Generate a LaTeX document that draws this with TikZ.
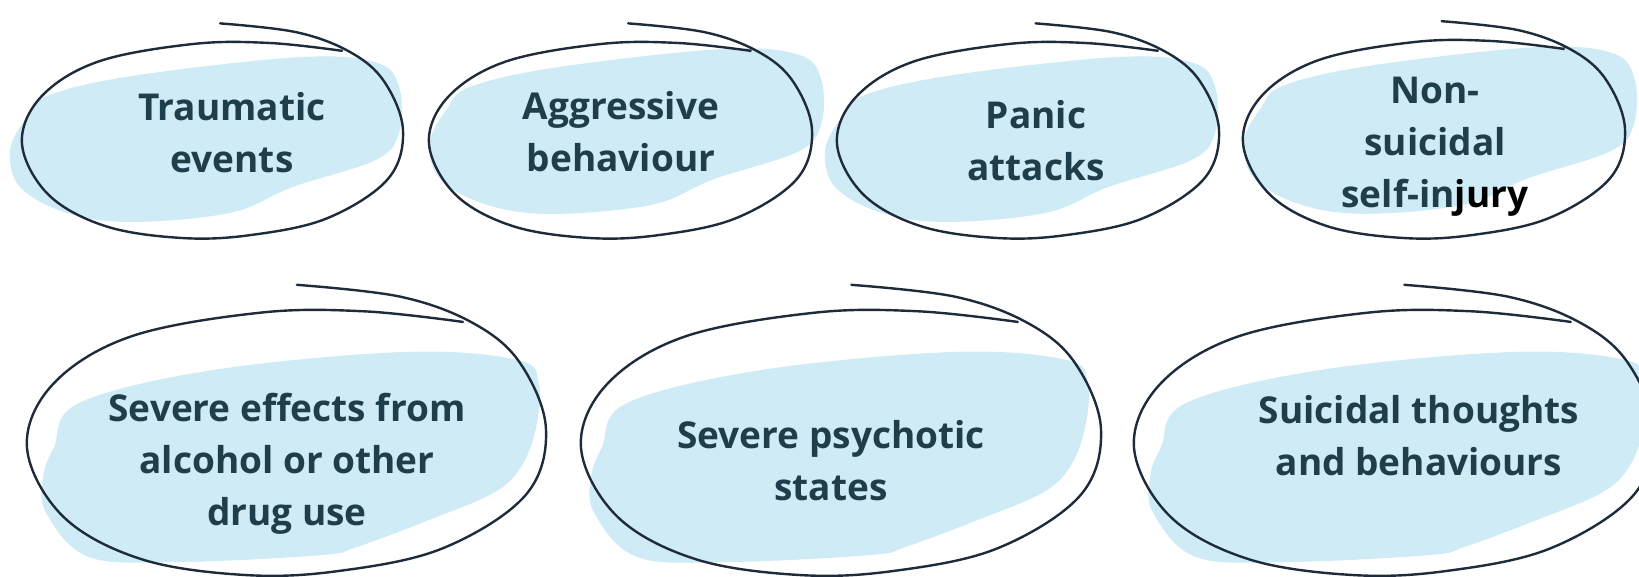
\documentclass[tikz,border=0pt]{standalone}
\usepackage{fontspec}
\setmainfont{Open Sans}
\definecolor{inkc}{HTML}{1E2B3A}
\definecolor{blobc}{HTML}{CFEBF5}
\definecolor{txtc}{HTML}{1F3E4B}
\tikzset{
  inkline/.style={draw=inkc, line width=2.4pt, line cap=round, line join=round},
  blobfill/.style={fill=blobc, draw=none},
  lbl/.style={font=\bfseries\fontsize{37}{52}\selectfont, text=txtc, align=center, inner sep=0pt, anchor=base}
}
% #1 x0, #2 y0, #3 width, #4 height of the main loop box
\newcommand{\handloop}[4]{%
  \begin{scope}[shift={(#1,#2)}, xscale=#3, yscale=#4]
    \draw[inkline] plot[smooth, tension=0.6] coordinates {
      (0.52,-0.095) (0.72,-0.05) (0.86,0.05) (0.95,0.2) (1.0,0.45) (0.96,0.7)
      (0.8,0.9) (0.6,0.985) (0.42,1.0) (0.22,0.94) (0.07,0.78) (0,0.52)
      (0.05,0.28) (0.2,0.1) (0.45,0.01) (0.65,0.005) (0.84,0.045)};
  \end{scope}}
\newcommand{\topblob}[4]{%
  \begin{scope}[shift={(#1,#2)}, xscale=#3, yscale=#4]
    \fill[blobfill] plot[smooth cycle, tension=0.6] coordinates {
      (0.013,0.383) (0.073,0.27) (0.3,0.17) (0.73,0.077) (0.93,0.105) (0.99,0.23)
      (0.99,0.46) (0.93,0.6) (0.71,0.74) (0.55,0.87) (0.29,0.918) (0.118,0.872)
      (-0.005,0.74) (-0.031,0.551)};
  \end{scope}}
\newcommand{\lowblob}[4]{%
  \begin{scope}[shift={(#1,#2)}, xscale=#3, yscale=#4]
    \fill[blobfill] plot[smooth cycle, tension=0.6] coordinates {
      (0.100,0.351) (0.360,0.226) (0.732,0.158) (0.946,0.189) (0.986,0.275)
      (0.981,0.442) (0.952,0.592) (0.898,0.691) (0.775,0.792) (0.636,0.894)
      (0.566,0.925) (0.293,0.951) (0.119,0.932) (0.037,0.766) (0.031,0.630)
      (0.052,0.517)};
  \end{scope}}
\begin{document}
\begin{tikzpicture}[x=1pt, y=-1pt]
  \clip (0,0) rectangle (1639,576);
  \fill[white] (0,0) rectangle (1639,576);
  % blobs
  \topblob{22}{42}{381}{196}
  \topblob{442}{34}{383}{196}
  \topblob{837}{42}{382}{196}
  \topblob{1256}{32}{382}{198}
  \lowblob{27}{310}{519}{265}
  \lowblob{575}{310}{520}{265}
  \lowblob{1134}{310}{520}{265}
  % loops
  \handloop{22}{42}{381}{196}
  \handloop{429}{42}{383}{196}
  \handloop{837}{42}{382}{196}
  \handloop{1243}{40}{382}{198}
  \handloop{27}{310}{519}{265}
  \handloop{581}{310}{520}{265}
  \handloop{1134}{310}{520}{265}
  % labels (anchor = baseline of last line)
  \node[lbl] (t1) at (232,172) {Traumatic\\events};
  \node[lbl] (t2) at (621,171) {Aggressive\\behaviour};
  \node[lbl] (t3) at (1036,180) {Panic\\attacks};
  \node[lbl] (t4) at (1435,207) {Non-\\suicidal\\self-in{\color{black}jury}};
  \node[lbl] (t5) at (287,525) {Severe effects from\\alcohol or other\\drug use};
  \node[lbl] (t6) at (831,500) {Severe psychotic\\states};
  \node[lbl] (t7) at (1419,475) {Suicidal thoughts\\and behaviours};
\end{tikzpicture}
\end{document}
